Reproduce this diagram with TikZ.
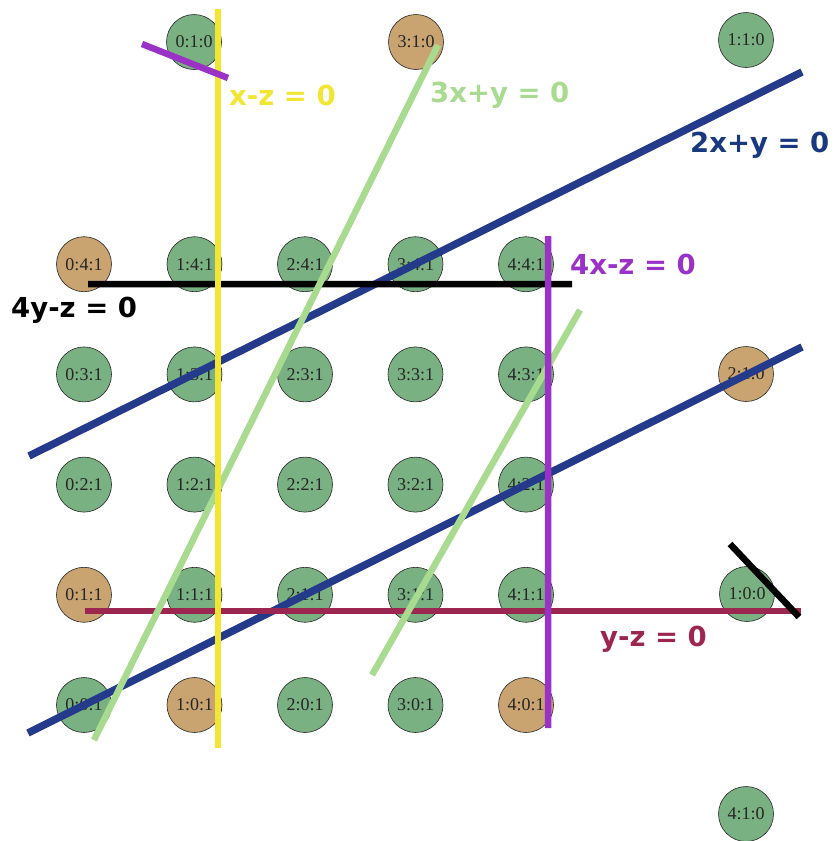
\documentclass[tikz,border=0pt]{standalone}
\usepackage{fontspec}
\setmainfont{Liberation Serif}
\newfontfamily\eqfont{DejaVu Sans}
\usetikzlibrary{positioning}
\definecolor{ptgreen}{RGB}{122,177,130}
\definecolor{pttan}{RGB}{201,163,112}
\definecolor{lnyellow}{RGB}{242,230,50}
\definecolor{lngreen}{RGB}{168,218,144}
\definecolor{lnnavy}{RGB}{36,58,138}
\definecolor{txnavy}{RGB}{24,56,128}
\definecolor{lnpurple}{RGB}{155,50,200}
\definecolor{lnmaroon}{RGB}{155,38,80}
\tikzset{
  pt/.style={circle,draw=black!85,semithick,fill=ptgreen,minimum size=55pt,inner sep=0pt,
    text=black!85,font=\fontsize{18}{18}\selectfont},
  tan/.style={fill=pttan},
  t04/.style={tan}, t01/.style={tan}, t10/.style={tan}, t40/.style={tan},
  ln/.style={line width=6.5pt},
  eq/.style={anchor=west,inner sep=0pt,font=\eqfont\bfseries\fontsize{27.5}{27.5}\selectfont},
}

\begin{document}
\begin{tikzpicture}[x=1pt,y=-1pt]
  \useasboundingbox (0,0) rectangle (837,841);
  % z = 1 grid, tan where the point lies on two lines
  \foreach \a in {0,...,4}
    \foreach \b in {0,...,4}
      \node[pt,t\a\b/.try] (p\a\b) at (84+110.5*\a,705-110.2*\b) {\a:\b:1};
  % points at infinity
  \node[pt] (q01) at (194,42) {0:1:0};
  \node[pt,tan] (q31) at (416,42) {3:1:0};
  \node[pt] (q11) at (746,40) {1:1:0};
  \node[pt,tan] (q21) at (746,374) {2:1:0};
  \node[pt] (q10) at (747,594) {1:0:0};
  \node[pt] (q41) at (746,814) {4:1:0};
  % line ends
  \coordinate (n1a) at (29,456);  \coordinate (n1b) at (802,72);
  \coordinate (n2a) at (28,733);  \coordinate (n2b) at (802,347);
  \coordinate (ma) at (85,611);   \coordinate (mb) at (801,611);
  \coordinate (ka) at (88,284);   \coordinate (kb) at (572,284);
  \coordinate (kc) at (730,544);  \coordinate (kd) at (799,617);
  \coordinate (g1a) at (438,45);  \coordinate (g1b) at (94,740);
  \coordinate (g2a) at (580,310); \coordinate (g2b) at (372,675);
  \coordinate (ya) at (218,9);    \coordinate (yb) at (218,748);
  \coordinate (ua) at (142,44);   \coordinate (ub) at (228,78);
  \coordinate (va) at (548,236);  \coordinate (vb) at (548,728);
  \draw[ln,lnnavy,line width=7.5pt] (n1a) -- (n1b) (n2a) -- (n2b);
  \draw[ln,lnmaroon] (ma) -- (mb);
  \draw[ln,black] (ka) -- (kb) (kc) -- (kd);
  \draw[ln,lngreen] (g1a) -- (g1b) (g2a) -- (g2b);
  \draw[ln,lnyellow] (ya) -- (yb);
  \draw[ln,lnpurple] (ua) -- (ub) (va) -- (vb);
  % labels
  \node[eq,text=lnyellow] (lxz) at (229,95) {x-z = 0};
  \node[eq,text=lngreen] (l3xy) at (430,95) {3x+y = 0};
  \node[eq,text=txnavy] (l2xy) at (690,145) {2x+y = 0};
  \node[eq,text=black] (l4yz) at (11,310) {4y-z = 0};
  \node[eq,text=lnpurple] (l4xz) at (570,264) {4x-z = 0};
  \node[eq,text=lnmaroon] (lyz) at (600,639) {y-z = 0};
\end{tikzpicture}
\end{document}
